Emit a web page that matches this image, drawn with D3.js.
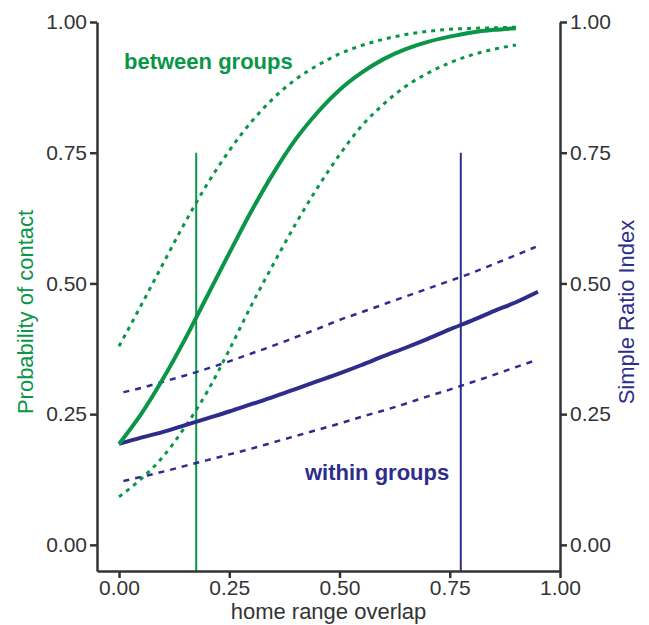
<!DOCTYPE html>
<html>
<head>
<meta charset="utf-8">
<script src="https://cdn.jsdelivr.net/npm/d3@7"></script>
<style>
  body { margin: 0; background: #fff; }
  svg { font-family: "Liberation Sans", Arial, sans-serif; }
</style>
</head>
<body>
<div id="chart"></div>
<script>
// home range overlap values
const X_BETWEEN = [0, 0.05, 0.1, 0.15, 0.2, 0.25, 0.3, 0.35, 0.4, 0.45, 0.5, 0.55, 0.6, 0.65, 0.7, 0.75, 0.8, 0.85, 0.9];
const BETWEEN_FIT = [0.193, 0.250, 0.318, 0.394, 0.476, 0.558, 0.638, 0.711, 0.775, 0.827, 0.870, 0.903, 0.929, 0.948, 0.962, 0.972, 0.980, 0.985, 0.988];
const BETWEEN_UPPER = [0.380, 0.458, 0.538, 0.617, 0.690, 0.754, 0.809, 0.854, 0.890, 0.917, 0.939, 0.955, 0.967, 0.976, 0.982, 0.986, 0.988, 0.989, 0.990];
const BETWEEN_LOWER = [0.092, 0.126, 0.169, 0.226, 0.293, 0.373, 0.458, 0.537, 0.613, 0.683, 0.746, 0.801, 0.843, 0.877, 0.902, 0.922, 0.937, 0.948, 0.956];

const X_WITHIN = [0, 0.05, 0.1, 0.15, 0.2, 0.25, 0.3, 0.35, 0.4, 0.45, 0.5, 0.55, 0.6, 0.65, 0.7, 0.75, 0.8, 0.85, 0.9, 0.95];
const WITHIN_FIT = [0.193, 0.205, 0.216, 0.229, 0.242, 0.255, 0.269, 0.283, 0.298, 0.313, 0.328, 0.344, 0.361, 0.377, 0.394, 0.412, 0.429, 0.447, 0.464, 0.484];
const X_WITHIN_CI = [0.01, 0.05, 0.1, 0.15, 0.2, 0.25, 0.3, 0.35, 0.4, 0.45, 0.5, 0.55, 0.6, 0.65, 0.7, 0.75, 0.8, 0.85, 0.9, 0.945];
const WITHIN_UPPER = [0.292, 0.300, 0.312, 0.324, 0.337, 0.351, 0.366, 0.381, 0.397, 0.413, 0.430, 0.445, 0.460, 0.475, 0.490, 0.505, 0.520, 0.537, 0.554, 0.570];
const WITHIN_LOWER = [0.122, 0.130, 0.140, 0.151, 0.162, 0.173, 0.184, 0.196, 0.208, 0.220, 0.232, 0.245, 0.257, 0.270, 0.284, 0.297, 0.311, 0.325, 0.340, 0.353];

// vertical reference lines
const MARKERS = [
  { x: 0.175, top: 0.75, group: "between" },
  { x: 0.775, top: 0.75, group: "within" }
];

const TICKS = [0, 0.25, 0.5, 0.75, 1];

const WIDTH = 649;
const HEIGHT = 625;
const GREEN = "#0a9548";
const NAVY = "#2e2d8c";
const AXIS = "#333";

const x = d3.scaleLinear().domain([-0.05, 1]).range([97, 560]);
const y = d3.scaleLinear().domain([-0.05, 1]).range([571, 22]);

const svg = d3.select("#chart").append("svg")
    .attr("width", WIDTH)
    .attr("height", HEIGHT);

function zip(xs, ys) {
  return xs.map((v, i) => [v, ys[i]]);
}

const line = d3.line()
    .x(d => x(d[0]))
    .y(d => y(d[1]))
    .curve(d3.curveMonotoneX);

// markers
svg.selectAll("line.marker")
  .data(MARKERS)
  .enter().append("line")
    .attr("class", "marker")
    .attr("x1", d => x(d.x))
    .attr("x2", d => x(d.x))
    .attr("y1", d => y(d.top))
    .attr("y2", y(-0.05))
    .attr("stroke", d => d.group === "between" ? GREEN : NAVY)
    .attr("stroke-width", 2);

const series = [
  { pts: zip(X_WITHIN_CI, WITHIN_UPPER), color: NAVY, w: 2.5, dash: "6,6" },
  { pts: zip(X_WITHIN_CI, WITHIN_LOWER), color: NAVY, w: 2.5, dash: "6,6" },
  { pts: zip(X_BETWEEN, BETWEEN_UPPER), color: GREEN, w: 3, dash: "4,5" },
  { pts: zip(X_BETWEEN, BETWEEN_LOWER), color: GREEN, w: 3, dash: "4,5" },
  { pts: zip(X_WITHIN, WITHIN_FIT), color: NAVY, w: 4, dash: null },
  { pts: zip(X_BETWEEN, BETWEEN_FIT), color: GREEN, w: 4, dash: null }
];

svg.selectAll("path.series")
  .data(series)
  .enter().append("path")
    .attr("class", "series")
    .attr("d", d => line(d.pts))
    .attr("fill", "none")
    .attr("stroke", d => d.color)
    .attr("stroke-width", d => d.w)
    .attr("stroke-dasharray", d => d.dash);

// axes
const fmt = d3.format(".2f");

const left = svg.append("g")
    .attr("transform", `translate(${x(-0.05)},0)`)
    .call(d3.axisLeft(y).tickValues(TICKS).tickFormat(fmt).tickSize(7).tickSizeOuter(0).tickPadding(3));

const right = svg.append("g")
    .attr("transform", `translate(${x(1)},0)`)
    .call(d3.axisRight(y).tickValues(TICKS).tickFormat(fmt).tickSize(7).tickSizeOuter(0).tickPadding(3));

const bottom = svg.append("g")
    .attr("transform", `translate(0,${y(-0.05)})`)
    .call(d3.axisBottom(x).tickValues(TICKS).tickFormat(fmt).tickSize(7).tickSizeOuter(0).tickPadding(2));

[left, right, bottom].forEach(g => {
  g.select(".domain").attr("stroke", AXIS).attr("stroke-width", 2.5);
  g.selectAll(".tick line").attr("stroke", AXIS).attr("stroke-width", 2.5);
  g.selectAll(".tick text")
      .attr("fill", AXIS)
      .style("font-size", "21px")
      .style("font-family", "'Liberation Sans', Arial, sans-serif");
});

// titles
svg.append("text")
    .text("home range overlap")
    .attr("x", (x(-0.05) + x(1)) / 2)
    .attr("y", 619)
    .attr("text-anchor", "middle")
    .attr("fill", AXIS)
    .style("font-size", "22px");

svg.append("text")
    .text("Probability of contact")
    .attr("transform", `translate(33,312) rotate(-90)`)
    .attr("text-anchor", "middle")
    .attr("fill", GREEN)
    .style("font-size", "22px");

svg.append("text")
    .text("Simple Ratio Index")
    .attr("transform", `translate(634,312) rotate(-90)`)
    .attr("text-anchor", "middle")
    .attr("fill", NAVY)
    .style("font-size", "22px");

// group labels
svg.append("text")
    .text("between groups")
    .attr("x", 124)
    .attr("y", 69)
    .attr("fill", GREEN)
    .style("font-size", "22px")
    .style("font-weight", "bold");

svg.append("text")
    .text("within groups")
    .attr("x", 305)
    .attr("y", 480)
    .attr("fill", NAVY)
    .style("font-size", "22px")
    .style("font-weight", "bold");
</script>
</body>
</html>
